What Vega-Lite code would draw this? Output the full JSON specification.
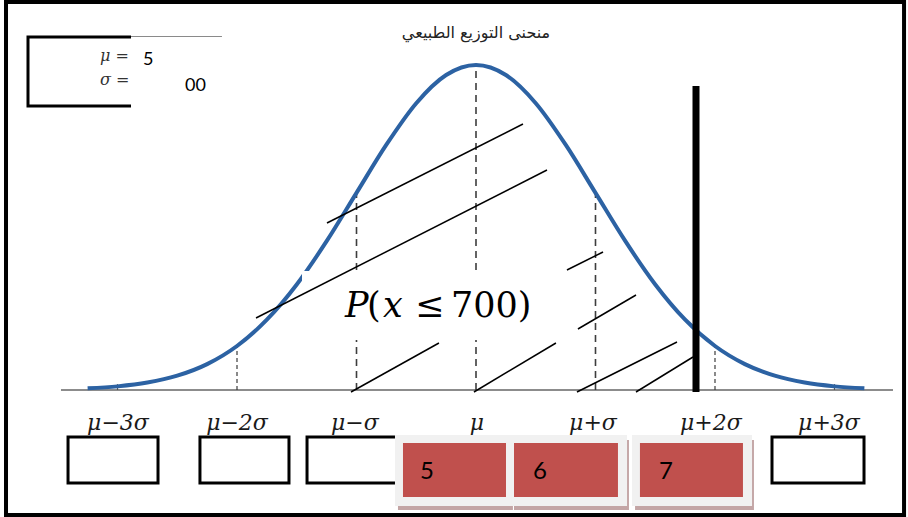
{
  "$schema": "https://vega.github.io/schema/vega-lite/v6.json",
  "width": 908,
  "height": 517,
  "padding": 0,
  "autosize": {"type": "fit", "contains": "padding"},
  "background": "white",
  "config": {"view": {"stroke": null}},
  "encoding": {
    "x": {"field": "x", "type": "quantitative", "scale": {"domain": [101.67, 861.51], "nice": false, "zero": false}, "axis": null},
    "y": {"field": "h", "type": "quantitative", "scale": {"domain": [-0.3908, 1.2], "nice": false, "zero": false}, "axis": null}
  },
  "layer": [
    {
      "data": {"values": [{"x": 152.7, "x2": 848.95, "h": 0}]},
      "mark": {"type": "rule", "color": "#8c8c8c", "strokeWidth": 2},
      "encoding": {"x2": {"field": "x2"}}
    },
    {
      "data": {"values": [{"x": 400, "h": 0, "h2": 0.6065}, {"x": 500, "h": 0, "h2": 1}, {"x": 600, "h": 0, "h2": 0.6065}]},
      "mark": {"type": "rule", "color": "#3d3d3d", "strokeWidth": 1.6, "strokeDash": [7, 5]},
      "encoding": {"y2": {"field": "h2"}}
    },
    {
      "data": {"values": [{"x": 300, "h": 0, "h2": 0.1353}, {"x": 700, "h": 0, "h2": 0.1353}]},
      "mark": {"type": "rule", "color": "#3d3d3d", "strokeWidth": 1.2, "strokeDash": [4, 3]},
      "encoding": {"y2": {"field": "h2"}}
    },
    {
      "data": {"values": [{"x": 200, "h": 0, "h2": 0.018}, {"x": 800, "h": 0, "h2": 0.018}]},
      "mark": {"type": "rule", "color": "#555555", "strokeWidth": 1.2},
      "encoding": {"y2": {"field": "h2"}}
    },
    {
      "data": {"values": [
        {"x": 175, "h": 0.00509}, {"x": 200, "h": 0.01111}, {"x": 225, "h": 0.02279}, {"x": 250, "h": 0.04394},
        {"x": 275, "h": 0.07956}, {"x": 300, "h": 0.13534}, {"x": 325, "h": 0.21627}, {"x": 350, "h": 0.32465},
        {"x": 375, "h": 0.45783}, {"x": 400, "h": 0.60653}, {"x": 425, "h": 0.75484}, {"x": 450, "h": 0.8825},
        {"x": 475, "h": 0.96923}, {"x": 500, "h": 1.0}, {"x": 525, "h": 0.96923}, {"x": 550, "h": 0.8825},
        {"x": 575, "h": 0.75484}, {"x": 600, "h": 0.60653}, {"x": 625, "h": 0.45783}, {"x": 650, "h": 0.32465},
        {"x": 675, "h": 0.21627}, {"x": 700, "h": 0.13534}, {"x": 725, "h": 0.07956}, {"x": 750, "h": 0.04394},
        {"x": 775, "h": 0.02279}, {"x": 800, "h": 0.01111}, {"x": 825, "h": 0.00509}
      ]},
      "mark": {"type": "line", "color": "#2c62a3", "strokeWidth": 4, "interpolate": "monotone"},
      "encoding": {}
    },
    {
      "data": {"values": [
        {"x": 375.3, "h": 0.5138, "x2": 539.3, "h2": 0.8185},
        {"x": 576.1, "h": 0.3692, "x2": 606.3, "h2": 0.4246},
        {"x": 585.3, "h": 0.1877, "x2": 633.9, "h2": 0.2923},
        {"x": 395.4, "h": -0.0062, "x2": 469.0, "h2": 0.1446},
        {"x": 498.3, "h": -0.0062, "x2": 566.9, "h2": 0.1446},
        {"x": 584.5, "h": -0.0062, "x2": 668.2, "h2": 0.1477},
        {"x": 633.9, "h": -0.0062, "x2": 681.6, "h2": 0.1015}
      ]},
      "mark": {"type": "rule", "color": "black", "strokeWidth": 1.5},
      "encoding": {"x2": {"field": "x2"}, "y2": {"field": "h2"}}
    },
    {
      "data": {"values": [{"x": 354.4, "x2": 584.5, "h": 0.3662, "h2": 0.1538}]},
      "mark": {"type": "rect", "color": "white"},
      "encoding": {"x2": {"field": "x2"}, "y2": {"field": "h2"}}
    },
    {
      "data": {"values": [{"x": 315.9, "h": 0.2215, "x2": 559.4, "h2": 0.6769}]},
      "mark": {"type": "rule", "color": "black", "strokeWidth": 1.5},
      "encoding": {"x2": {"field": "x2"}, "y2": {"field": "h2"}}
    },
    {
      "data": {"values": [{"x": 684.1, "h": -0.006, "h2": 0.9354}]},
      "mark": {"type": "rule", "color": "black", "strokeWidth": 7},
      "encoding": {"y2": {"field": "h2"}}
    },
    {
      "data": {"values": [{"x": 390.4, "h": 0.2246, "t": "P"}, {"x": 422.2, "h": 0.2246, "t": "x"}]},
      "mark": {"type": "text", "font": "DejaVu Serif", "fontStyle": "italic", "fontSize": 35, "align": "left", "baseline": "alphabetic", "color": "black"},
      "encoding": {"text": {"field": "t"}}
    },
    {
      "data": {"values": [{"x": 408.8, "h": 0.2246, "t": "("}, {"x": 448.9, "h": 0.2246, "t": "≤"}, {"x": 479.1, "h": 0.2246, "t": "700)"}]},
      "mark": {"type": "text", "font": "DejaVu Serif", "fontSize": 35, "align": "left", "baseline": "alphabetic", "color": "black"},
      "encoding": {"text": {"field": "t"}}
    },
    {
      "data": {"values": [{"x": 500, "h": 1.0985, "t": "منحنى التوزيع الطبيعي"}]},
      "mark": {"type": "text", "font": "DejaVu Sans", "fontSize": 16, "align": "center", "baseline": "middle", "color": "#222222"},
      "encoding": {"text": {"field": "t"}}
    },
    {
      "data": {"values": [{"x": 125.1, "x2": 287.4, "h": 1.0862, "h2": 0.8738}]},
      "mark": {"type": "rect", "fill": "white", "stroke": "black", "strokeWidth": 3},
      "encoding": {"x2": {"field": "x2"}, "y2": {"field": "h2"}}
    },
    {
      "data": {"values": [{"x": 185.4, "h": 1.0277, "t": "μ ="}, {"x": 185.4, "h": 0.9538, "t": "σ ="}]},
      "mark": {"type": "text", "font": "DejaVu Serif", "fontStyle": "italic", "fontSize": 16, "align": "left", "baseline": "middle", "color": "#333333"},
      "encoding": {"text": {"field": "t"}}
    },
    {
      "data": {"values": [{"x": 211.3, "x2": 289.5, "h": 1.0955, "h2": 0.8554}]},
      "mark": {"type": "rect", "color": "white"},
      "encoding": {"x2": {"field": "x2"}, "y2": {"field": "h2"}}
    },
    {
      "data": {"values": [{"x": 211.3, "x2": 287.4, "h": 1.0877}]},
      "mark": {"type": "rule", "color": "#8a8a8a", "strokeWidth": 1.2},
      "encoding": {"x2": {"field": "x2"}}
    },
    {
      "data": {"values": [{"x": 221.3, "h": 1.0154, "t": "5"}, {"x": 256.5, "h": 0.9354, "t": "00"}]},
      "mark": {"type": "text", "font": "Lato", "fontSize": 18, "align": "left", "baseline": "middle", "color": "black"},
      "encoding": {"text": {"field": "t"}}
    },
    {
      "data": {"values": [
        {"x": 200.4, "h": -0.1015, "t": "μ−3σ"}, {"x": 300.0, "h": -0.1015, "t": "μ−2σ"},
        {"x": 398.7, "h": -0.1015, "t": "μ−σ"}, {"x": 500.8, "h": -0.1015, "t": "μ"},
        {"x": 597.9, "h": -0.1015, "t": "μ+σ"}, {"x": 696.6, "h": -0.1015, "t": "μ+2σ"},
        {"x": 795.4, "h": -0.1015, "t": "μ+3σ"}
      ]},
      "mark": {"type": "text", "font": "DejaVu Serif", "fontStyle": "italic", "fontSize": 22, "align": "center", "baseline": "middle", "color": "#1a1a1a"},
      "encoding": {"text": {"field": "t"}}
    },
    {
      "data": {"values": [
        {"x": 158.6, "x2": 233.9, "h": -0.1446, "h2": -0.2862},
        {"x": 269.0, "x2": 343.5, "h": -0.1446, "h2": -0.2862},
        {"x": 358.6, "x2": 436.4, "h": -0.1446, "h2": -0.2862},
        {"x": 747.7, "x2": 824.7, "h": -0.1446, "h2": -0.2862}
      ]},
      "mark": {"type": "rect", "fill": "white", "stroke": "black", "strokeWidth": 3},
      "encoding": {"x2": {"field": "x2"}, "y2": {"field": "h2"}}
    },
    {
      "data": {"values": [
        {"x": 434.7, "x2": 530.9, "h": -0.1538, "h2": -0.3692},
        {"x": 531.8, "x2": 628.0, "h": -0.1538, "h2": -0.3692},
        {"x": 633.1, "x2": 732.6, "h": -0.1538, "h2": -0.3692}
      ]},
      "mark": {"type": "rect", "color": "#c3a5a5"},
      "encoding": {"x2": {"field": "x2"}, "y2": {"field": "h2"}}
    },
    {
      "data": {"values": [
        {"x": 432.2, "x2": 529.3, "h": -0.1385, "h2": -0.3569},
        {"x": 529.3, "x2": 626.4, "h": -0.1385, "h2": -0.3569},
        {"x": 630.5, "x2": 731.0, "h": -0.1385, "h2": -0.3569}
      ]},
      "mark": {"type": "rect", "color": "#f1f1f1"},
      "encoding": {"x2": {"field": "x2"}, "y2": {"field": "h2"}}
    },
    {
      "data": {"values": [
        {"x": 438.9, "x2": 525.1, "h": -0.1631, "h2": -0.3292},
        {"x": 531.8, "x2": 618.8, "h": -0.1631, "h2": -0.3292},
        {"x": 637.2, "x2": 723.4, "h": -0.1631, "h2": -0.3292}
      ]},
      "mark": {"type": "rect", "color": "#c0504d"},
      "encoding": {"x2": {"field": "x2"}, "y2": {"field": "h2"}}
    },
    {
      "data": {"values": [
        {"x": 453.1, "h": -0.2523, "t": "5"},
        {"x": 547.7, "h": -0.2523, "t": "6"},
        {"x": 653.1, "h": -0.2523, "t": "7"}
      ]},
      "mark": {"type": "text", "font": "Lato", "fontSize": 24, "align": "left", "baseline": "middle", "color": "black"},
      "encoding": {"text": {"field": "t"}}
    },
    {
      "data": {"values": [{"x": 106.7, "x2": 858.2, "h": 1.1938, "h2": -0.3846}]},
      "mark": {"type": "rect", "filled": false, "color": "black", "strokeWidth": 4},
      "encoding": {"x2": {"field": "x2"}, "y2": {"field": "h2"}}
    }
  ]
}
